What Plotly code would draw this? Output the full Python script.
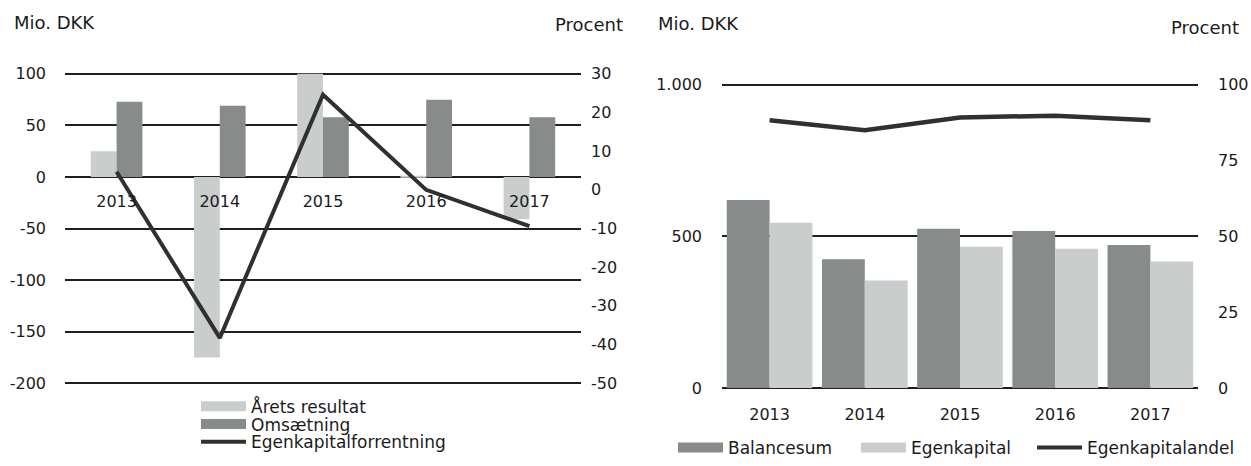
import plotly.graph_objects as go

# ---------------- data ----------------
years = ["2013", "2014", "2015", "2016", "2017"]

# left chart (Mio. DKK / Procent)
arets_resultat = [25, -175, 100, 1, -41]
omsaetning = [73, 69, 58, 75, 58]
egenkapitalforrentning = [4.7, -38.3, 24.6, 0.0, -9.4]

# right chart (Mio. DKK / Procent)
balancesum = [620, 425, 525, 518, 472]
egenkapital = [545, 355, 466, 459, 417]
egenkapitalandel = [88.3, 85.0, 89.2, 89.8, 88.3]

left_y_ticks = [100, 50, 0, -50, -100, -150, -200]
left_y_ticktext = ["100", "50", "0", "-50", "-100", "-150", "-200"]
left_y2_ticks = [30, 20, 10, 0, -10, -20, -30, -40, -50]
left_y2_ticktext = ["30", "20", "10", "0", "-10", "-20", "-30", "-40", "-50"]
right_y_ticks = [0, 500, 1000]
right_y_ticktext = ["0", "500", "1.000"]
right_y2_ticks = [0, 25, 50, 75, 100]
right_y2_ticktext = ["0", "25", "50", "75", "100"]

# ---------------- style ----------------
FONT = "DejaVu Sans, Liberation Sans, Arial, sans-serif"
TXT = "#1b1b1b"
LIGHT = "#c9cdcc"
DARK = "#878b8a"
LINE = "#303030"
GRID = "#1f1f1f"
W, H = 1251, 466

def py(px):
    return (H - px) / H

fig = go.Figure()

# left chart
fig.add_trace(go.Bar(x=years, y=arets_resultat, name="Årets resultat",
                     marker_color=LIGHT, width=0.25, offset=-0.25,
                     xaxis="x", yaxis="y", showlegend=False))
fig.add_trace(go.Bar(x=years, y=omsaetning, name="Omsætning",
                     marker_color=DARK, width=0.25, offset=0.0,
                     xaxis="x", yaxis="y", showlegend=False))
fig.add_trace(go.Scatter(x=years, y=egenkapitalforrentning, name="Egenkapitalforrentning",
                         mode="lines", line=dict(color=LINE, width=4),
                         xaxis="x", yaxis="y2", showlegend=False))

# right chart
fig.add_trace(go.Bar(x=years, y=balancesum, name="Balancesum",
                     marker_color=DARK, width=0.45, offset=-0.45,
                     xaxis="x3", yaxis="y3", showlegend=False))
fig.add_trace(go.Bar(x=years, y=egenkapital, name="Egenkapital",
                     marker_color=LIGHT, width=0.45, offset=0.0,
                     xaxis="x3", yaxis="y3", showlegend=False))
fig.add_trace(go.Scatter(x=years, y=egenkapitalandel, name="Egenkapitalandel",
                         mode="lines", line=dict(color=LINE, width=4.5),
                         xaxis="x3", yaxis="y4", showlegend=False))

# legend entries, each in its own legend box so rows can sit tightly
legend_items = [
    ("Årets resultat", LIGHT, 11, "x", "y", "legend"),
    ("Omsætning", DARK, 11, "x", "y", "legend2"),
    ("Egenkapitalforrentning", LINE, 4, "x", "y", "legend3"),
    ("Balancesum", DARK, 11, "x3", "y3", "legend4"),
    ("Egenkapital", LIGHT, 11, "x3", "y3", "legend5"),
    ("Egenkapitalandel", LINE, 4, "x3", "y3", "legend6"),
]
for nm, col, w, xa, ya, lg in legend_items:
    fig.add_trace(go.Scatter(x=[None], y=[None], mode="lines", name=nm,
                             line=dict(color=col, width=w),
                             xaxis=xa, yaxis=ya, legend=lg, showlegend=True))

# ---------------- geometry ----------------
lp = (389 - 75) / 300.0
l_range = [-202, 102]
l_top = 75 - 2 * lp
l_bot = 389 + 2 * lp
l_dom = [py(l_bot), py(l_top)]
def l2r(v):
    return (v - 100) * (80 / 300.0) + 30
l2_range = [l2r(l_range[0]), l2r(l_range[1])]
zero_pos = l_dom[0] + (0 - l_range[0]) / (l_range[1] - l_range[0]) * (l_dom[1] - l_dom[0])

rp = (394 - 86) / 1000.0
r_range = [-10, 1010]
r_top = 86 - 10 * rp
r_bot = 394 + 10 * rp
r_dom = [py(r_bot), py(r_top)]
r2_range = [r_range[0] / 10.0, r_range[1] / 10.0]

tickfont = dict(family=FONT, size=16, color=TXT)
LEGFONT = dict(family=FONT, size=17, color=TXT)
TITLEFONT = dict(family=FONT, size=18, color=TXT)

def leg(xpx, ypx):
    return dict(x=xpx / W, y=py(ypx), xanchor="left", yanchor="middle",
                orientation="v", font=LEGFONT, bgcolor="rgba(0,0,0,0)",
                borderwidth=0, itemwidth=45)

fig.update_layout(
    template="none",
    width=W, height=H,
    margin=dict(l=0, r=0, t=0, b=0, pad=0),
    paper_bgcolor="white", plot_bgcolor="white",
    font=dict(family=FONT, size=16, color=TXT),
    barmode="overlay",
    xaxis=dict(domain=[65 / W, 581 / W], anchor="free", position=zero_pos,
               type="category", showgrid=False, showline=False, zeroline=False,
               ticks="", tickfont=tickfont, ticklabelstandoff=13,
               range=[-0.5, 4.5], automargin=False),
    yaxis=dict(domain=l_dom, range=l_range, tickvals=left_y_ticks,
               ticktext=left_y_ticktext,
               showgrid=True, gridcolor=GRID, gridwidth=1.5, zeroline=False,
               showline=False, ticks="", tickfont=tickfont, ticklabelstandoff=18,
               automargin=False),
    yaxis2=dict(overlaying="y", side="right", range=l2_range, tickvals=left_y2_ticks,
                ticktext=left_y2_ticktext,
                showgrid=False, zeroline=False, showline=False, ticks="",
                tickfont=tickfont, ticklabelstandoff=9, automargin=False),
    xaxis3=dict(domain=[722 / W, 1198 / W], anchor="y3", type="category",
                showgrid=False, showline=False, zeroline=False, ticks="",
                tickfont=tickfont, ticklabelstandoff=12, range=[-0.5, 4.5],
                automargin=False),
    yaxis3=dict(domain=r_dom, anchor="x3", range=r_range, tickvals=right_y_ticks,
                ticktext=right_y_ticktext, showgrid=True, gridcolor=GRID,
                gridwidth=1.5, zeroline=False, showline=False, ticks="",
                tickfont=tickfont, ticklabelstandoff=19, automargin=False),
    yaxis4=dict(overlaying="y3", anchor="x3", side="right", range=r2_range,
                tickvals=right_y2_ticks, ticktext=right_y2_ticktext,
                showgrid=False, zeroline=False,
                showline=False, ticks="", tickfont=tickfont, ticklabelstandoff=19,
                automargin=False),
    legend=leg(196, 413),
    legend2=leg(196, 431),
    legend3=leg(196, 449),
    legend4=leg(673, 455),
    legend5=leg(856, 455),
    legend6=leg(1032, 455),
    annotations=[
        dict(text="Mio. DKK", x=12 / W, y=py(23), xref="paper", yref="paper",
             xanchor="left", yanchor="middle", showarrow=False, font=TITLEFONT),
        dict(text="Procent", x=625 / W, y=py(25), xref="paper", yref="paper",
             xanchor="right", yanchor="middle", showarrow=False, font=TITLEFONT),
        dict(text="Mio. DKK", x=656 / W, y=py(24), xref="paper", yref="paper",
             xanchor="left", yanchor="middle", showarrow=False, font=TITLEFONT),
        dict(text="Procent", x=1241 / W, y=py(28), xref="paper", yref="paper",
             xanchor="right", yanchor="middle", showarrow=False, font=TITLEFONT),
    ],
)

css_fix = (
    "document.documentElement.style.margin='0px';"
    "document.documentElement.style.overflow='hidden';"
    "document.body.style.margin='0px';"
    "document.body.style.overflow='hidden';"
)
fig.write_html("out.html", post_script=css_fix,
               config={"displayModeBar": False})
